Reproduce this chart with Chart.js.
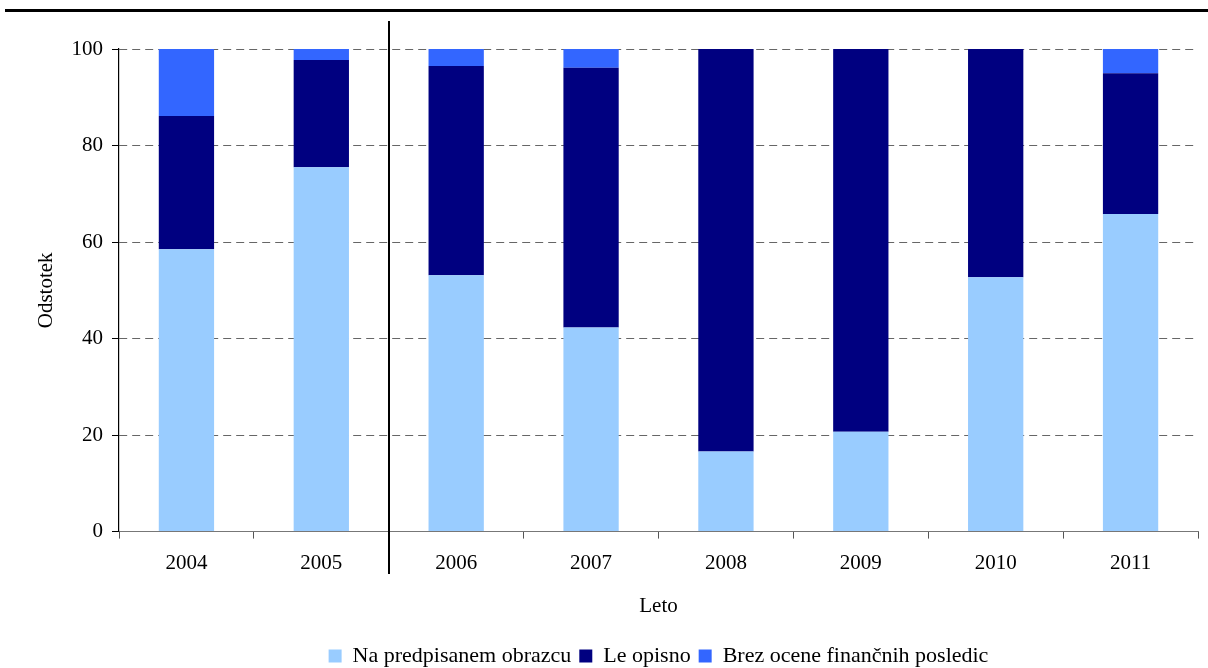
<!DOCTYPE html>
<html>
<head>
<meta charset="utf-8">
<script src="https://cdn.jsdelivr.net/npm/chart.js@4.4.1/dist/chart.umd.min.js"></script>
<style>
  html, body { margin: 0; padding: 0; background: #fff; }
  .wrap { position: relative; width: 1208px; height: 668px; }
  .topline { position: absolute; left: 5px; right: 0; top: 9px; height: 3px; background: #000; }
  canvas { position: absolute; left: 0; top: 0; }
</style>
</head>
<body>
<div class="wrap">
  <div class="topline"></div>
  <canvas id="chart" width="1208" height="668"></canvas>
</div>
<script>
// Leta in deleži (v odstotkih)
const leta = ['2004', '2005', '2006', '2007', '2008', '2009', '2010', '2011'];
const naObrazcu = [58.5, 75.5, 53.1, 42.3, 16.6, 20.7, 52.7, 65.8];
const leOpisno = [27.6, 22.2, 43.4, 53.8, 83.4, 79.3, 47.3, 29.2];
const brezOcene = [13.9, 2.3, 3.5, 3.9, 0, 0, 0, 5.0];
const yTicks = [0, 20, 40, 60, 80, 100];

const fontFamily = '"Liberation Serif", "DejaVu Serif", serif';

// navpična črta med 2005 in 2006
const locnica = {
  id: 'locnica',
  afterDraw(chart) {
    const x = chart.scales.x;
    const px = Math.round((x.getPixelForValue(1) + x.getPixelForValue(2)) / 2);
    const ctx = chart.ctx;
    ctx.save();
    ctx.strokeStyle = '#000';
    ctx.lineWidth = 2;
    ctx.beginPath();
    ctx.moveTo(px, 21);
    ctx.lineTo(px, 574);
    ctx.stroke();
    ctx.restore();
  }
};

new Chart(document.getElementById('chart').getContext('2d'), {
  type: 'bar',
  data: {
    labels: leta,
    datasets: [
      { label: 'Na predpisanem obrazcu', data: naObrazcu, backgroundColor: '#99CCFF' },
      { label: 'Le opisno', data: leOpisno, backgroundColor: '#000080' },
      { label: 'Brez ocene finančnih posledic', data: brezOcene, backgroundColor: '#3366FF' }
    ]
  },
  options: {
    responsive: false,
    animation: false,
    barPercentage: 0.41,
    categoryPercentage: 1,
    layout: { padding: { left: 22, right: 10, top: 49, bottom: -9 } },
    plugins: {
      tooltip: { enabled: false },
      legend: {
        position: 'bottom',
        fullSize: false,
        labels: {
          color: '#000',
          font: { family: fontFamily, size: 22 },
          boxWidth: 13,
          boxHeight: 13,
          padding: 8
        }
      }
    },
    scales: {
      x: {
        stacked: true,
        grid: {
          offset: true,
          drawOnChartArea: false,
          tickLength: 7,
          tickColor: '#555'
        },
        border: { color: '#777', width: 1 },
        ticks: { color: '#000', font: { family: fontFamily, size: 21 }, padding: 12 },
        title: {
          display: true,
          text: 'Leto',
          color: '#000',
          font: { family: fontFamily, size: 21 },
          padding: { top: 6, bottom: 18 }
        }
      },
      y: {
        stacked: true,
        min: 0,
        max: 100,
        afterBuildTicks(axis) {
          axis.ticks = yTicks.map(v => ({ value: v }));
        },
        afterFit(axis) {
          axis.width = 97;
        },
        grid: {
          color: '#666',
          tickBorderDash: [],
          tickColor: '#000',
          tickLength: 7
        },
        border: { color: '#000', width: 1.2, dash: [8, 5] },
        ticks: { color: '#000', font: { family: fontFamily, size: 21 }, padding: 9 },
        title: {
          display: true,
          text: 'Odstotek',
          color: '#000',
          font: { family: fontFamily, size: 21 },
          padding: { top: 12, bottom: 0 }
        }
      }
    }
  },
  plugins: [locnica]
});
</script>
</body>
</html>
